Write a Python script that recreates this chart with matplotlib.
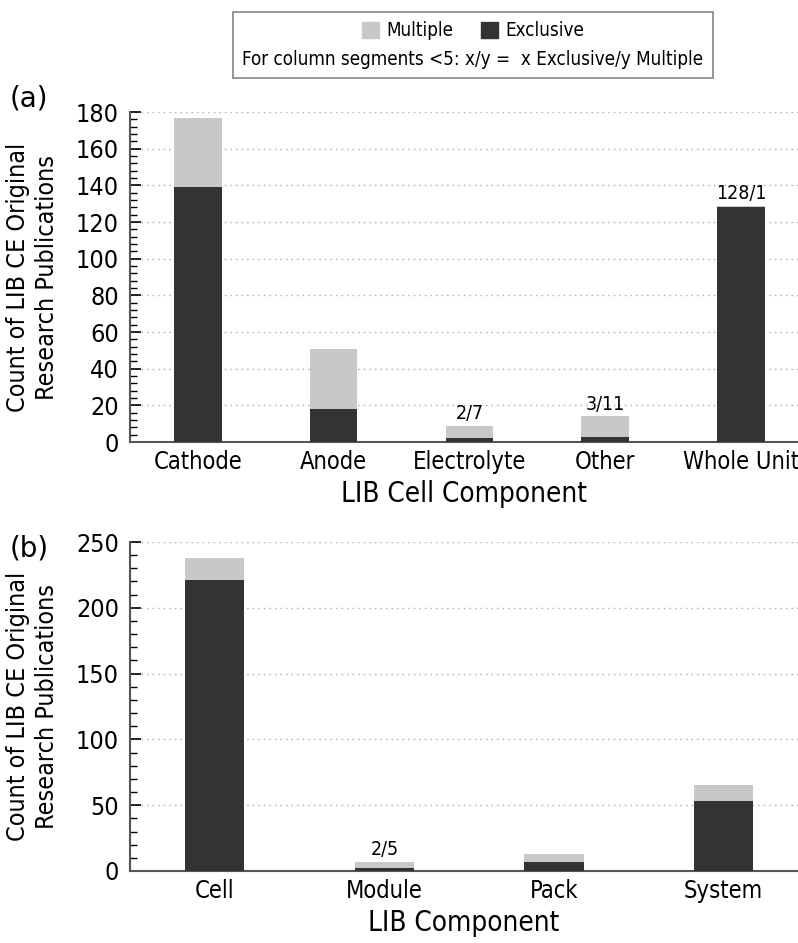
import matplotlib.pyplot as plt
from matplotlib.patches import Patch
from matplotlib.ticker import MultipleLocator

plt.rcParams['font.family'] = ['DejaVu Sans']
plt.rcParams['font.stretch'] = 'condensed'

# panel (a): LIB cell components
cell_parts = ['Cathode', 'Anode', 'Electrolyte', 'Other', 'Whole Unit']
cell_exclusive = [139, 18, 2, 3, 128]
cell_multiple = [38, 33, 7, 11, 1]

# panel (b): LIB components
lib_parts = ['Cell', 'Module', 'Pack', 'System']
lib_exclusive = [221, 2, 7, 53]
lib_multiple = [17, 5, 6, 12]

DARK = '#333333'
LIGHT = '#c8c8c8'


def draw_panel(ax, cats, excl, mult, ymax, major, minor, xlabel, xright):
    x = range(len(cats))
    ax.bar(x, excl, width=0.35, color=DARK, zorder=3)
    ax.bar(x, mult, width=0.35, bottom=excl, color=LIGHT, zorder=3)
    # small segments get an x/y label on top
    for i, (e, m) in enumerate(zip(excl, mult)):
        if e < 5 or m < 5:
            ax.text(i, e + m + ymax * 0.008, f"{e}/{m}", ha='center', va='bottom', fontsize=14)
    ax.set_xlim(-0.5, xright)
    ax.set_ylim(0, ymax)
    ax.yaxis.set_major_locator(MultipleLocator(major))
    ax.yaxis.set_minor_locator(MultipleLocator(minor))
    ax.tick_params(axis='y', which='major', direction='in', length=8, width=1.2, labelsize=18, pad=8)
    ax.tick_params(axis='y', which='minor', direction='in', length=5, width=1.0)
    ax.tick_params(axis='x', length=0, labelsize=17, pad=6)
    ax.set_xticks(list(x))
    ax.set_xticklabels(cats)
    for g in range(major, ymax + 1, major):
        ax.axhline(g, color='#aaaaaa', linestyle=(0, (1, 3)), linewidth=1, zorder=1)
    ax.spines['top'].set_visible(False)
    ax.spines['right'].set_visible(False)
    ax.spines['left'].set_color('#555555')
    ax.spines['bottom'].set_color('#555555')
    ax.spines['left'].set_linewidth(1.5)
    ax.spines['bottom'].set_linewidth(1.5)
    ax.set_xlabel(xlabel, fontsize=20, labelpad=4)
    ax.set_ylabel('Count of LIB CE Original\nResearch Publications', fontsize=18, labelpad=12, linespacing=1.25)


fig = plt.figure(figsize=(7.98, 9.43), dpi=100)
ax1 = fig.add_axes([130 / 798, 1 - 442 / 943, 668 / 798, 330 / 943])
ax2 = fig.add_axes([130 / 798, 1 - 871 / 943, 668 / 798, 329 / 943])

draw_panel(ax1, cell_parts, cell_exclusive, cell_multiple, 180, 20, 4, 'LIB Cell Component', 4.42)
draw_panel(ax2, lib_parts, lib_exclusive, lib_multiple, 250, 50, 10, 'LIB Component', 3.44)

fig.text(10 / 798, 1 - 98 / 943, '(a)', fontsize=20, stretch='normal', va='center')
fig.text(10 / 798, 1 - 548 / 943, '(b)', fontsize=20, stretch='normal', va='center')

# legend box on top
handles = [Patch(color=LIGHT, label='Multiple'), Patch(color=DARK, label='Exclusive')]
leg = fig.legend(handles=handles, loc='upper center', bbox_to_anchor=(473 / 798, 1 - 12 / 943),
                 ncol=2, frameon=True, fancybox=False, fontsize=13.5, handlelength=0.9,
                 handleheight=0.9, columnspacing=1.5, handletextpad=0.4,
                 title='For column segments <5: x/y =  x Exclusive/y Multiple',
                 title_fontsize=13.5, borderpad=0.5, borderaxespad=0)
leg.get_frame().set_edgecolor('#666666')
leg.get_frame().set_linewidth(1.2)
# put the title under the patches
leg._legend_box.align = 'center'
title_box = leg._legend_box._children[0]
leg._legend_box._children = leg._legend_box._children[1:] + [title_box]

fig.savefig('out.png', dpi=100)
